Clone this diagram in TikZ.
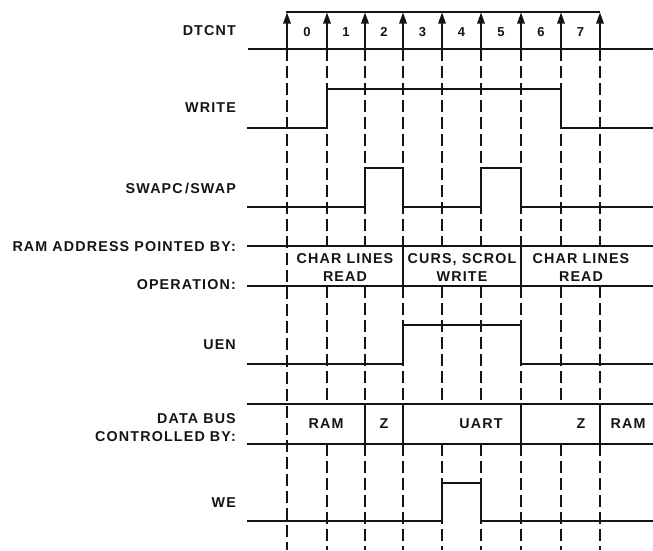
\documentclass[tikz,border=0pt]{standalone}
\usepackage{fontspec}
\usepackage{xcolor}
\definecolor{cInk}{HTML}{141414}
\newfontfamily\lblfamily[LetterSpace=8]{Liberation Sans}
\newcommand{\lblfont}{\lblfamily\bfseries\fontsize{14.3}{18}\selectfont}
\newcommand{\cntfont}{\lblfamily\bfseries\fontsize{13}{15}\selectfont}
\usepackage{tikz}
\usetikzlibrary{arrows.meta}
\tikzset{
  sig-line/.style={draw=cInk,line width=1.4pt},
  bus-line/.style={draw=cInk,line width=2.1pt},
  bus-sep/.style={draw=cInk,line width=1.7pt},
  tick-dash/.style={draw=cInk,line width=1.2pt,dash pattern=on 12pt off 5pt},
  tick-arrow/.style={-{Triangle[length=11pt,width=7.5pt]},line width=1.5pt,draw=cInk},
  node-label/.style={anchor=east,font=\lblfont,text=cInk,align=right,inner sep=0pt},
  node-bus/.style={font=\lblfont,text=cInk,align=center,inner sep=0pt},
  node-count/.style={font=\cntfont,text=cInk,inner sep=0pt},
}

\begin{document}
\begin{tikzpicture}[x=1pt,y=-1pt]
  \useasboundingbox (0,0) rectangle (653,550);
  % signal names
  \node[node-label] (dt) at (236,31)  {DTCNT};
  \node[node-label] (wr) at (236,108) {WRITE};
  \node[node-label] (sw) at (236,188) {SWAPC\,/SWAP};
  \node[node-label] (ra) at (236,247) {RAM ADDRESS POINTED BY:};
  \node[node-label] (op) at (236,285) {OPERATION:};
  \node[node-label] (ue) at (236,345) {UEN};
  \node[node-label] (db) at (236,428) {DATA BUS\\CONTROLLED BY:};
  \node[node-label] (we) at (236,503) {WE};
  % dashed time marks
  \draw[tick-dash] (287,49) -- (287,550);
  \foreach \x in {327,365,403,442,481,521,561,600} {
    \draw[tick-dash] (\x,49) -- (\x,246);
    \draw[tick-dash] (\x,286) -- (\x,404);
    \draw[tick-dash] (\x,444) -- (\x,550);
  }
  % DTCNT
  \draw[sig-line] (248,49) -- (653,49);
  \draw[sig-line] (286,12) -- (600,12);
  \foreach \x in {287,327,365,403,442,481,521,561,600}
    \draw[tick-arrow] (\x,49) -- (\x,12.5);
  \foreach \a/\b [count=\k from 0] in {287/327,327/365,365/403,403/442,442/481,481/521,521/561,561/600}
    \node[node-count] (n\k) at ({(\a+\b)/2},32) {\k};
  % WRITE, SWAPC/SWAP
  \draw[sig-line] (247,128) -| (327,89) -| (561,128) -- (653,128);
  \draw[sig-line] (247,207) -| (365,168) -| (403,207) -| (481,168) -| (521,207) -- (653,207);
  % RAM address / operation
  \draw[bus-line] (247,246) -- (653,246);
  \draw[bus-line] (247,286) -- (653,286);
  \draw[bus-sep] (403,246) -- (403,286);
  \draw[bus-sep] (521,246) -- (521,286);
  \node[node-bus] (r1) at (345,267) {CHAR LINES\\READ};
  \node[node-bus] (r2) at (462,267) {CURS, SCROL\\WRITE};
  \node[node-bus] (r3) at (581,267) {CHAR LINES\\READ};
  % UEN
  \draw[sig-line] (247,364) -| (403,325) -| (521,364) -- (653,364);
  % data bus
  \draw[bus-line] (247,404) -- (653,404);
  \draw[bus-line] (247,444) -- (653,444);
  \foreach \x in {365,403,521,600}
    \draw[bus-sep] (\x,404) -- (\x,444);
  \node[node-bus] (d1) at (326,424) {RAM};
  \node[node-bus] (d2) at (384,424) {Z};
  \node[node-bus] (d3) at (481,424) {UART};
  \node[node-bus] (d4) at (581,424) {Z};
  \node[node-bus] (d5) at (628,424) {RAM};
  % WE
  \draw[sig-line] (247,521) -| (442,483) -| (481,521) -- (653,521);
\end{tikzpicture}
\end{document}
